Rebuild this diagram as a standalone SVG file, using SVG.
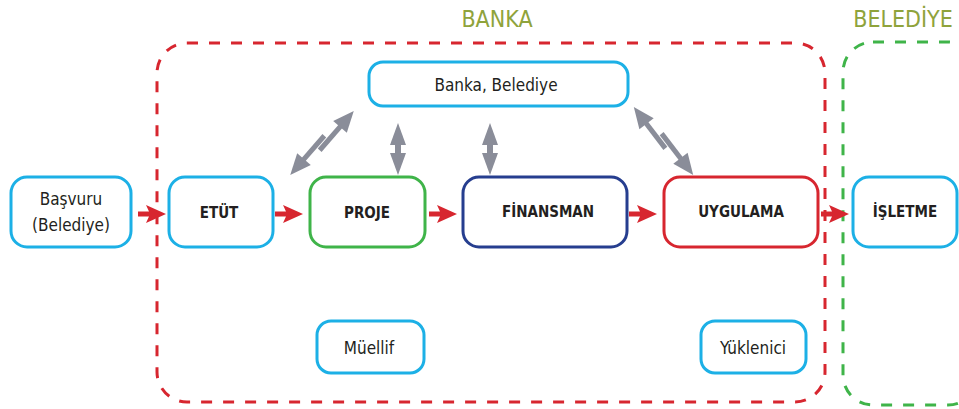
<svg xmlns="http://www.w3.org/2000/svg" width="959" height="409" viewBox="0 0 959 409">
<style>
text{font-family:"DejaVu Sans Condensed","Liberation Sans Narrow","Liberation Sans",sans-serif;fill:#231f20;text-anchor:middle}
.box{fill:#fff;stroke-width:3}
.cy{stroke:#1cb0e6}.gr{stroke:#3fb449}.nv{stroke:#263e8f}.rd{stroke:#d7262f}
.b{font-weight:bold;font-size:15px}
.n{font-size:17px}
.title{font-size:23px;fill:#8fa33b;font-weight:300}
.grp{fill:none;stroke-width:3;stroke-dasharray:11 11}
.ga{fill:#8a8d99}
.ra{fill:#d7262f}
</style>
<defs>
<path id="ra" d="M-28,-2.5 L-17,-2.5 L-20,-9 L0,0 L-20,9 L-17,2.5 L-28,2.5 Z"/>
<g id="va">
<polygon points="0,-26 8,-4 -8,-4"/>
<polygon points="-8,4 8,4 0,26"/>
<rect x="-3" y="-6" width="6" height="12"/>
</g>
<g id="da">
<rect x="-7" y="0.5" width="33" height="5"/>
<polygon points="24,-6 45,3 24,12"/>
<rect x="-26" y="-5.5" width="33" height="5"/>
<polygon points="-24,-12 -45,-3 -24,6"/>
</g>
</defs>

<g id="group-banka">
<rect class="grp rd" x="157" y="43" width="668" height="359" rx="30"/>
<text class="title" x="497" y="27">BANKA</text>
</g>
<g id="group-belediye">
<rect class="grp" style="stroke:#3fb449" x="843" y="42" width="135" height="363" rx="30"/>
<text class="title" x="903" y="27">BELEDİYE</text>
</g>

<g id="connectors">
<g class="ra">
<use href="#ra" transform="translate(166,214)"/>
<use href="#ra" transform="translate(303,214)"/>
<use href="#ra" transform="translate(457,214)"/>
<use href="#ra" transform="translate(657,214)"/>
<use href="#ra" transform="translate(849,214)"/>
</g>
<g class="ga">
<use href="#va" transform="translate(398,149)"/>
<use href="#va" transform="translate(490,149)"/>
<use href="#da" transform="translate(322,143) rotate(-49)"/>
<use href="#da" transform="translate(663.5,141) rotate(52.6) scale(-1,1)"/>
</g>
</g>

<g id="node-bankabelediye">
<rect class="box cy" x="369" y="62" width="259" height="44" rx="14"/>
<text class="n" x="496" y="91">Banka, Belediye</text>
</g>
<g id="node-basvuru">
<rect class="box cy" x="11" y="177" width="120" height="70" rx="16"/>
<text class="n" x="71" y="205">Başvuru</text>
<text class="n" x="71" y="231">(Belediye)</text>
</g>
<g id="node-etut">
<rect class="box cy" x="169" y="177" width="104" height="70" rx="16"/>
<text class="b" x="219" y="218">ETÜT</text>
</g>
<g id="node-proje">
<rect class="box gr" x="310" y="177" width="115" height="70" rx="16"/>
<text class="b" x="367" y="218">PROJE</text>
</g>
<g id="node-finansman">
<rect class="box nv" x="463" y="177" width="164" height="70" rx="16"/>
<text class="b" x="548" y="217">FİNANSMAN</text>
</g>
<g id="node-uygulama">
<rect class="box rd" x="664" y="177" width="154" height="70" rx="16"/>
<text class="b" x="741" y="217">UYGULAMA</text>
</g>
<g id="node-isletme">
<rect class="box cy" x="853" y="177" width="104" height="70" rx="16"/>
<text class="b" x="905" y="217">İŞLETME</text>
</g>
<g id="node-muellif">
<rect class="box cy" x="317" y="321" width="107" height="52" rx="14"/>
<text class="n" x="369" y="354">Müellif</text>
</g>
<g id="node-yuklenici">
<rect class="box cy" x="701" y="321" width="105" height="52" rx="14"/>
<text class="n" x="753" y="354">Yüklenici</text>
</g>
</svg>
